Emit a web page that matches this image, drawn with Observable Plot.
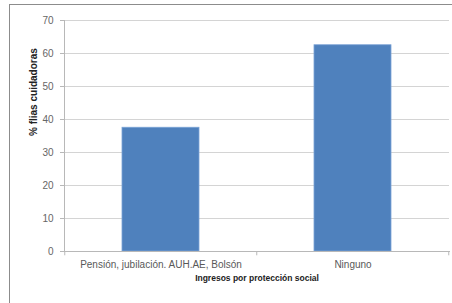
<!DOCTYPE html>
<html>
<head>
<meta charset="utf-8">
<script src="https://cdn.jsdelivr.net/npm/d3@7"></script>
<script src="https://cdn.jsdelivr.net/npm/@observablehq/plot@0.6"></script>
<style>
  html, body { margin: 0; padding: 0; background: #fff; }
  #wrap { position: relative; width: 452px; height: 303px; overflow: hidden; }
  #border { position: absolute; left: 9px; top: 4px; width: 460px; height: 320px;
            border-top: 1.5px solid #8c8c8c; border-left: 1.5px solid #8c8c8c; }
  #wrap svg { position: absolute; left: 0; top: 0; }
</style>
</head>
<body>
<div id="wrap"><div id="border"></div></div>
<script>
const categories = ["Pensión, jubilación. AUH.AE, Bolsón", "Ninguno"];
const values = [37.5, 62.5];
const yTicks = [0, 10, 20, 30, 40, 50, 60, 70];
const yLabel = "% flias cuidadoras";
const xLabel = "Ingresos por protección social";

const data = categories.map((c, i) => ({category: c, value: values[i]}));

const W = 452, H = 303, mL = 64, mR = 3, mT = 20, mB = 52;
const step = (W - mL - mR) / categories.length;

const chart = Plot.plot({
  width: W,
  height: H,
  marginLeft: mL,
  marginRight: mR,
  marginTop: mT,
  marginBottom: mB,
  style: {fontFamily: "Liberation Sans, Arial, sans-serif", fontSize: "10px", color: "#595959", background: "transparent"},
  x: {domain: categories, paddingInner: 0.6, paddingOuter: 0.3},
  y: {domain: [0, 70]},
  marks: [
    Plot.gridY(yTicks, {stroke: "#d4d4d4", strokeOpacity: 1, strokeWidth: 1}),
    Plot.barY(data, {x: "category", y: "value", fill: "#4f81bd", stroke: "#7aa3d6", strokeWidth: 0.8}),
    Plot.frame({anchor: "left", stroke: "#b8b8b8"}),
    Plot.frame({anchor: "bottom", stroke: "#b8b8b8"}),
    Plot.axisY(yTicks, {tickSize: 4, tickPadding: 7, stroke: "#b8b8b8", fill: "#666", label: null}),
    Plot.axisX({tickSize: 0, tickPadding: 9, fill: "#595959", label: null}),
    Plot.ruleX(categories, {x: d => d, dx: -step / 2, y1: 0, y2: -1.3, stroke: "#b8b8b8"}),
    Plot.ruleX(categories.slice(-1), {x: d => d, dx: step / 2 - 0.5, y1: 0, y2: -1.3, stroke: "#b8b8b8"}),
    Plot.text([yLabel], {frameAnchor: "left", text: d => d, rotate: -90, dx: -31, fontWeight: "bold", fill: "#222", fontSize: 10}),
    Plot.text([xLabel], {frameAnchor: "bottom", text: d => d, dy: 29, fontWeight: "bold", fill: "#222", fontSize: 8.5})
  ]
});
document.getElementById("wrap").appendChild(chart);
</script>
</body>
</html>
